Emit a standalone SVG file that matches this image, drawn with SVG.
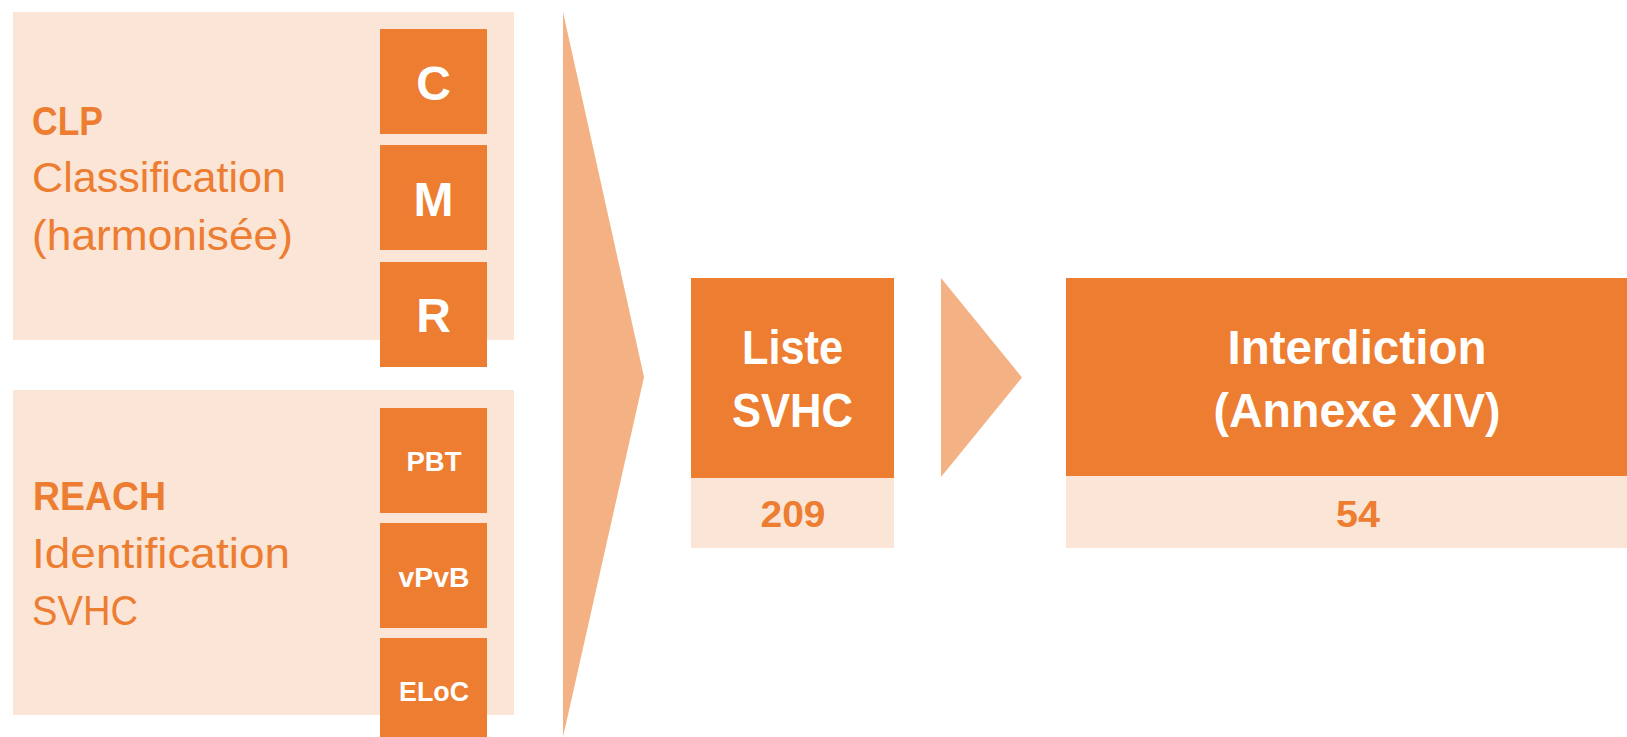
<svg xmlns="http://www.w3.org/2000/svg" width="1627" height="737" viewBox="0 0 1627 737">
<style>
.bg{fill:#FFFFFF}
.pale{fill:#FBE5D6}
.dark{fill:#ED7D31}
.mid{fill:#F4B183}
text{font-family:"Liberation Sans",Arial,sans-serif}
.lt{fill:#ED7D31;font-size:42px}
.ltb{fill:#ED7D31;font-size:41px;font-weight:bold}
.big{fill:#FFFFFF;font-size:48px;font-weight:bold;text-anchor:middle}
.sm{fill:#FFFFFF;font-size:27px;font-weight:bold;text-anchor:middle}
.num{fill:#ED7D31;font-size:36px;font-weight:bold;text-anchor:middle}
</style>
<rect class="bg" x="0" y="0" width="1627" height="737"/>
<g id="clp">
<rect class="pale" x="13" y="12" width="501" height="328"/>
<text class="ltb" x="32" y="135" textLength="71" lengthAdjust="spacingAndGlyphs">CLP</text>
<text class="lt" x="32" y="192" textLength="254" lengthAdjust="spacingAndGlyphs">Classification</text>
<text class="lt" x="32" y="250" textLength="261" lengthAdjust="spacingAndGlyphs">(harmonisée)</text>
</g>
<g id="clp-c">
<rect class="dark" x="380" y="29" width="107" height="105"/>
<text class="big" x="433.5" y="100">C</text>
</g>
<g id="clp-m">
<rect class="dark" x="380" y="145" width="107" height="105"/>
<text class="big" x="433.5" y="216">M</text>
</g>
<g id="clp-r">
<rect class="dark" x="380" y="262" width="107" height="105"/>
<text class="big" x="433.5" y="332">R</text>
</g>
<g id="reach">
<rect class="pale" x="13" y="390" width="501" height="325"/>
<text class="ltb" x="33" y="510" textLength="133" lengthAdjust="spacingAndGlyphs">REACH</text>
<text class="lt" x="32" y="568" textLength="258" lengthAdjust="spacingAndGlyphs">Identification</text>
<text class="lt" x="32" y="625" textLength="106" lengthAdjust="spacingAndGlyphs">SVHC</text>
</g>
<g id="reach-pbt">
<rect class="dark" x="380" y="408" width="107" height="105"/>
<text class="sm" x="434" y="471" textLength="55" lengthAdjust="spacingAndGlyphs">PBT</text>
</g>
<g id="reach-vpvb">
<rect class="dark" x="380" y="523" width="107" height="105"/>
<text class="sm" x="434" y="587" textLength="71" lengthAdjust="spacingAndGlyphs">vPvB</text>
</g>
<g id="reach-eloc">
<rect class="dark" x="380" y="638" width="107" height="105"/>
<text class="sm" x="434" y="701" textLength="70" lengthAdjust="spacingAndGlyphs">ELoC</text>
</g>
<g id="connectors">
<polygon class="mid" points="563,12 644,377 563,737"/>
<polygon class="mid" points="941,278 1022,377.5 941,477"/>
</g>
<g id="liste-svhc">
<rect class="pale" x="691" y="478" width="203" height="70"/>
<rect class="dark" x="691" y="278" width="203" height="200"/>
<text class="big" x="792.5" y="364" textLength="101" lengthAdjust="spacingAndGlyphs">Liste</text>
<text class="big" x="792.5" y="427" textLength="121" lengthAdjust="spacingAndGlyphs">SVHC</text>
<text class="num" x="793" y="527" textLength="65" lengthAdjust="spacingAndGlyphs">209</text>
</g>
<g id="interdiction">
<rect class="pale" x="1066" y="476" width="584" height="72"/>
<rect class="dark" x="1066" y="278" width="584" height="198"/>
<text class="big" x="1357" y="364" textLength="259" lengthAdjust="spacingAndGlyphs">Interdiction</text>
<text class="big" x="1357" y="427" textLength="287" lengthAdjust="spacingAndGlyphs">(Annexe XIV)</text>
<text class="num" x="1358" y="527" textLength="44" lengthAdjust="spacingAndGlyphs">54</text>
</g>
</svg>
